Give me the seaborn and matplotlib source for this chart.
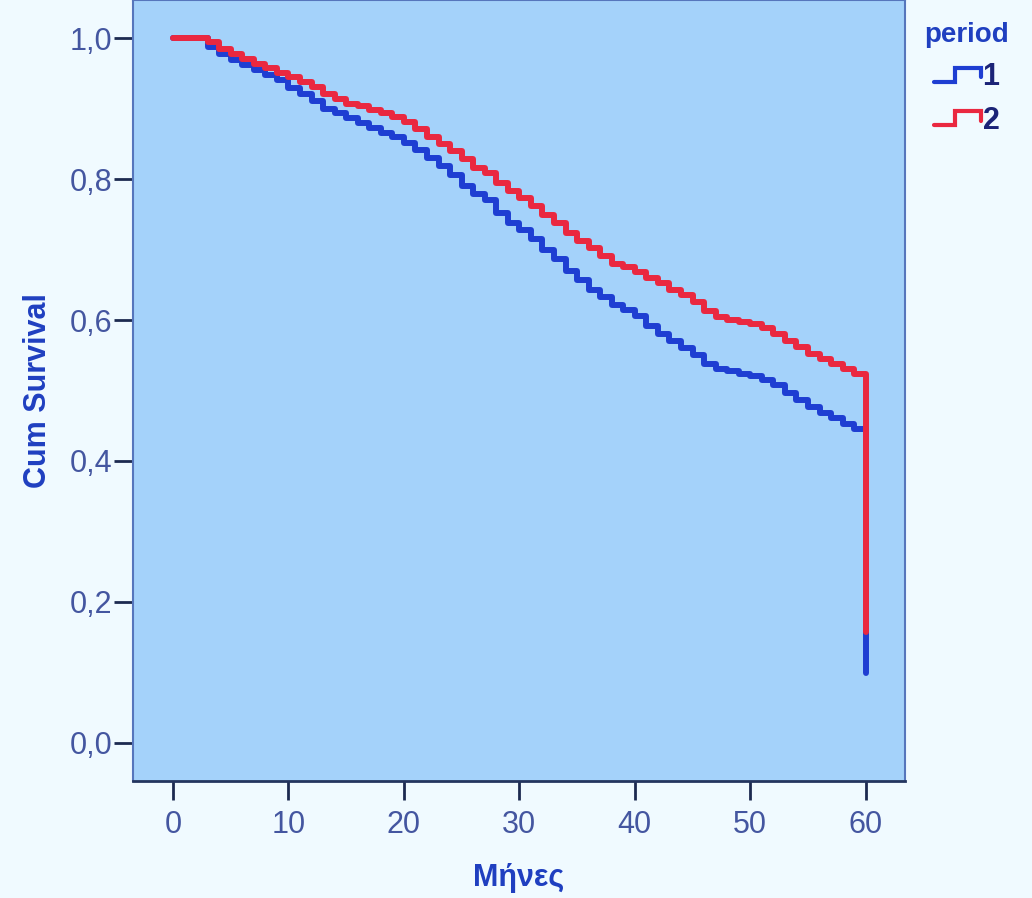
import matplotlib
matplotlib.use("Agg")
import matplotlib.pyplot as plt
import numpy as np
import pandas as pd
import seaborn as sns
from matplotlib.lines import Line2D
from matplotlib.legend_handler import HandlerBase

# ---------------- data ----------------
months = list(range(61))
survival_period1 = [
    1.000, 1.000, 1.000, 0.988, 0.978, 0.969, 0.962, 0.954, 0.947, 0.940,
    0.929, 0.921, 0.911, 0.900, 0.893, 0.886, 0.879, 0.873, 0.866, 0.860,
    0.851, 0.841, 0.830, 0.818, 0.806, 0.790, 0.779, 0.770, 0.752, 0.738,
    0.727, 0.715, 0.700, 0.687, 0.670, 0.657, 0.643, 0.632, 0.621, 0.614,
    0.605, 0.592, 0.580, 0.570, 0.560, 0.550, 0.537, 0.530, 0.527, 0.524,
    0.521, 0.515, 0.508, 0.497, 0.487, 0.477, 0.468, 0.461, 0.452, 0.446,
    0.099,
]
survival_period2 = [
    1.000, 1.000, 1.000, 0.995, 0.985, 0.977, 0.970, 0.963, 0.957, 0.950,
    0.945, 0.938, 0.930, 0.920, 0.913, 0.907, 0.903, 0.898, 0.893, 0.888,
    0.881, 0.871, 0.860, 0.850, 0.840, 0.828, 0.816, 0.808, 0.795, 0.783,
    0.773, 0.762, 0.749, 0.738, 0.724, 0.712, 0.702, 0.691, 0.680, 0.675,
    0.668, 0.659, 0.652, 0.643, 0.635, 0.625, 0.613, 0.604, 0.600, 0.597,
    0.595, 0.589, 0.580, 0.570, 0.562, 0.552, 0.544, 0.537, 0.530, 0.524,
    0.157,
]
period_labels = ["1", "2"]
x_ticks = [0, 10, 20, 30, 40, 50, 60]
x_tick_labels = ["0", "10", "20", "30", "40", "50", "60"]
y_ticks = [0.0, 0.2, 0.4, 0.6, 0.8, 1.0]
y_tick_labels = ["0,0", "0,2", "0,4", "0,6", "0,8", "1,0"]
x_label = "Μήνες"
y_label = "Cum Survival"
legend_title = "period"

# ---------------- style ----------------
BLUE = "#1E3ED2"
RED = "#EA2840"
FIG_BG = "#F0FAFF"
AX_BG = "#A4D2FA"
TICK_TXT = "#4456A0"
LABEL_TXT = "#1F3FC0"

sns.set_style("white")
plt.rcParams["font.family"] = ["Liberation Sans", "DejaVu Sans"]

df = pd.DataFrame({
    "month": months * 2,
    "survival": survival_period1 + survival_period2,
    "period": [period_labels[0]] * len(months) + [period_labels[1]] * len(months),
})

fig = plt.figure(figsize=(10.32, 8.98), dpi=100, facecolor=FIG_BG)
ax = fig.add_axes([133 / 1032, 117 / 898, 772 / 1032, 781 / 898])
ax.set_facecolor(AX_BG)

sns.lineplot(
    data=df, x="month", y="survival", hue="period",
    palette={period_labels[0]: BLUE, period_labels[1]: RED},
    hue_order=period_labels, estimator=None, sort=False,
    drawstyle="steps-post", linewidth=4.3, ax=ax, legend=False,
)

ax.set_xlim(-3.46, 63.4)
ax.set_ylim(-0.054, 1.054)
ax.set_xticks(x_ticks)
ax.set_xticklabels(x_tick_labels)
ax.set_yticks(y_ticks)
ax.set_yticklabels(y_tick_labels)
ax.tick_params(axis="x", direction="out", length=14, width=2, color="#1C2A50",
               pad=7, labelsize=22, labelcolor=TICK_TXT, bottom=True)
ax.tick_params(axis="y", direction="out", length=14, width=2, color="#1C2A50",
               pad=1, labelsize=22, labelcolor=TICK_TXT, left=True)

for name, sp in ax.spines.items():
    sp.set_visible(True)
    sp.set_color("#5676BC")
    sp.set_linewidth(1.5)
ax.spines["bottom"].set_color("#23355F")
ax.spines["bottom"].set_linewidth(2)

ax.set_xlabel(x_label, fontsize=22, fontweight="bold", color=LABEL_TXT)
ax.set_ylabel(y_label, fontsize=22, fontweight="bold", color=LABEL_TXT)
ax.xaxis.set_label_coords(0.5, -0.105)
ax.yaxis.set_label_coords(-0.104, 0.5)


class StepHandler(HandlerBase):
    def create_artists(self, legend, orig_handle, xdescent, ydescent,
                       width, height, fontsize, trans):
        xs = np.array([0.0, 0.45, 0.45, 1.0, 1.0])
        ys = np.array([0.1, 0.1, 0.85, 0.85, 0.35])
        line = Line2D(xs * width - xdescent, ys * height - ydescent,
                      color=orig_handle.get_color(), linewidth=3,
                      solid_joinstyle="miter", transform=trans)
        return [line]


handles = [Line2D([], [], color=BLUE), Line2D([], [], color=RED)]
leg = fig.legend(
    handles, period_labels, title=legend_title, loc="upper left",
    bbox_to_anchor=(912 / 1032, 1 - 10 / 898), frameon=False,
    handler_map={Line2D: StepHandler()}, handlelength=1.55, handleheight=0.55,
    handletextpad=0.05, labelspacing=0.45, borderaxespad=0,
    prop={"weight": "bold", "size": 22},
    title_fontproperties={"weight": "bold", "size": 20},
)
leg.get_title().set_color(LABEL_TXT)
for t in leg.get_texts():
    t.set_color("#1B2377")

fig.savefig("out.png", dpi=100, facecolor=FIG_BG)
